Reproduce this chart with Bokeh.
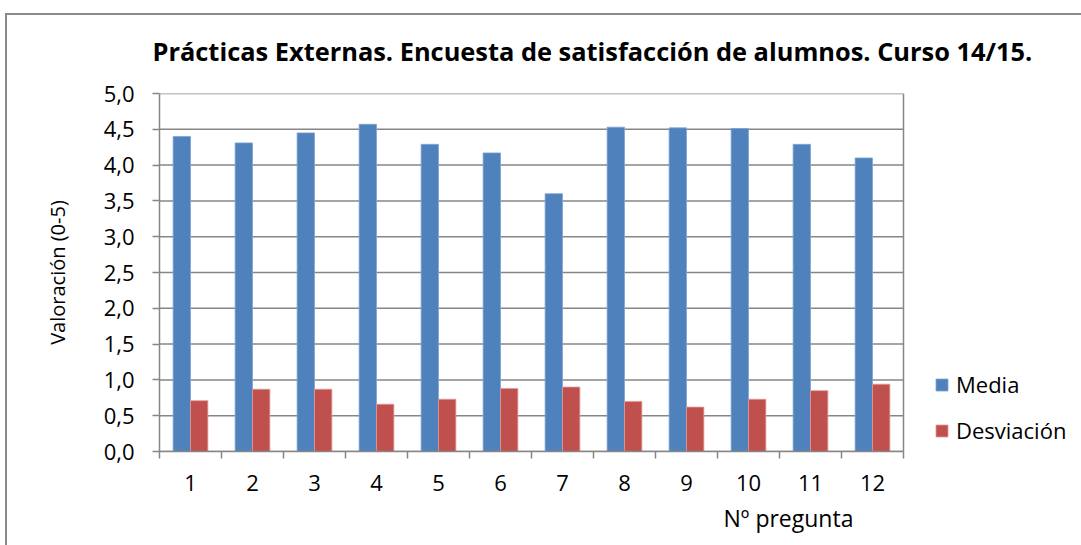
from bokeh.plotting import figure
from bokeh.models import (ColumnDataSource, FixedTicker, CustomJSTickFormatter, Title,
                          Legend, LegendItem)
from bokeh.transform import dodge
from bokeh.embed import file_html
from bokeh.resources import INLINE

title = "Prácticas Externas. Encuesta de satisfacción de alumnos. Curso 14/15."
x_title = "Nº pregunta"
y_title = "Valoración (0-5)"
preguntas = [1, 2, 3, 4, 5, 6, 7, 8, 9, 10, 11, 12]
media = [4.40, 4.31, 4.45, 4.57, 4.29, 4.17, 3.60, 4.53, 4.52, 4.51, 4.29, 4.10]
desviacion = [0.71, 0.87, 0.87, 0.66, 0.73, 0.88, 0.90, 0.70, 0.62, 0.73, 0.85, 0.94]
y_ticks = [0, 0.5, 1.0, 1.5, 2.0, 2.5, 3.0, 3.5, 4.0, 4.5, 5.0]

FONT = "Open Sans"
GRID = "#868686"
BLUE = "#4F81BD"
RED = "#C0504D"

x_lo, x_hi = preguntas[0] - 0.5, preguntas[-1] + 0.5
frame_px = 1081 - 159           # frame runs to the right edge so the legend fits inside
x_end = x_lo + frame_px / (744 / len(preguntas))

src = ColumnDataSource(dict(x=preguntas, media=media, desv=desviacion))

p = figure(width=1081, height=545, x_range=(x_lo, x_end), y_range=(0, 5),
           min_border_left=159, min_border_right=0, min_border_top=93, min_border_bottom=94,
           output_backend="svg", toolbar_location=None)
p.background_fill_color = "white"
p.border_fill_alpha = 0
p.styles = {
    "background": ("linear-gradient(#8a8a8a,#8a8a8a) 5px 13px / 2px 100% no-repeat, "
                   "linear-gradient(#8a8a8a,#8a8a8a) 5px 13px / 100% 2px no-repeat, #ffffff"),
}
p.outline_line_color = None

# plot-area grid lines and right border
p.segment(x0=x_lo, x1=x_hi, y0=y_ticks, y1=y_ticks, line_color=GRID, line_width=1.5)
p.segment(x0=x_hi, x1=x_hi, y0=y_ticks[0], y1=y_ticks[-1], line_color=GRID, line_width=1.5)

bw = 0.28
r1 = p.vbar(x=dodge("x", -bw / 2), top="media", width=bw, source=src, fill_color=BLUE,
            line_color="#7FA3D3", line_width=0.8)
r2 = p.vbar(x=dodge("x", bw / 2), top="desv", width=bw, source=src, fill_color=RED,
            line_color="#E09A98", line_width=0.8)

# axes
xa = p.xaxis[0]
xa.bounds = (x_lo, x_hi)
xa.ticker = FixedTicker(ticks=preguntas, minor_ticks=[i + 0.5 for i in range(0, 13)])
xa.major_tick_out = 0
xa.major_tick_in = 0
xa.minor_tick_out = 7
xa.minor_tick_in = 0
xa.minor_tick_line_color = GRID
xa.minor_tick_line_width = 1.5
xa.axis_line_color = GRID
xa.axis_line_width = 1.5
xa.major_label_standoff = 16
xa.major_label_text_font = FONT
xa.major_label_text_font_size = "22px"
xa.major_label_text_color = "black"

ya = p.yaxis[0]
ya.bounds = (0, 5)
ya.ticker = FixedTicker(ticks=y_ticks)
ya.formatter = CustomJSTickFormatter(code="return tick.toFixed(1).replace('.', ',');")
ya.major_tick_out = 7
ya.major_tick_in = 0
ya.minor_tick_out = 0
ya.minor_tick_in = 0
ya.major_tick_line_color = GRID
ya.major_tick_line_width = 1.5
ya.axis_line_color = GRID
ya.axis_line_width = 1.5
ya.major_label_standoff = 18
ya.major_label_text_font = FONT
ya.major_label_text_font_size = "22px"
ya.major_label_text_color = "black"
ya.axis_label = y_title
ya.axis_label_text_font = FONT
ya.axis_label_text_font_size = "20px"
ya.axis_label_text_font_style = "normal"
ya.axis_label_text_color = "black"
ya.axis_label_standoff = 30

p.xgrid.grid_line_color = None
p.ygrid.grid_line_color = None

# title
p.title.text = title
p.title.align = "left"
p.title.offset = -7
p.title.standoff = 51
p.title.text_font = FONT
p.title.text_font_size = "25.4px"
p.title.text_font_style = "bold"
p.title.text_color = "black"

p.add_layout(Title(text=x_title, align="left", offset=564, standoff=13, text_font=FONT,
                   text_font_size="23px", text_font_style="normal", text_color="black"),
             "below")

legend = Legend(items=[LegendItem(label="Media", renderers=[r1]),
                       LegendItem(label="Desviación", renderers=[r2])],
                location=(934 - 159, 6), orientation="vertical")
legend.border_line_color = None
legend.background_fill_alpha = 0
legend.padding = 0
legend.margin = 0
legend.spacing = 16
legend.glyph_width = 15
legend.glyph_height = 15
legend.label_height = 24
legend.label_standoff = 7
legend.label_text_font = FONT
legend.label_text_font_size = "22px"
legend.label_text_color = "black"
p.add_layout(legend, "center")

open("out.html", "w").write(file_html(p, INLINE))
